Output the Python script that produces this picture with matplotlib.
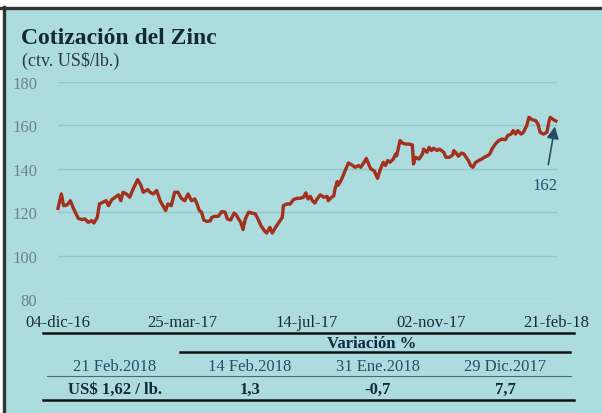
import pandas as pd
import numpy as np
import matplotlib.pyplot as plt
from matplotlib.lines import Line2D
from matplotlib.patches import Rectangle

# =========================
# 1. DATA
# =========================
# dias desde el 04-dic-16
dias = [0, 3, 5, 8, 11, 14, 18, 21, 24, 27, 30, 32, 35, 37, 40, 43, 45, 48, 51, 54,
        56, 58, 61, 64, 67, 71, 74, 76, 80, 82, 85, 88, 91, 96, 98, 101, 104, 107, 110, 113,
        116, 119, 122, 124, 126, 128, 130, 133, 136, 137, 140, 143, 146, 149, 151, 154, 157, 159, 161, 163,
        165, 167, 170, 173, 176, 179, 181, 184, 186, 189, 191, 194, 197, 200, 201, 204, 207, 210, 213, 216,
        219, 221, 223, 225, 227, 229, 231, 234, 237, 240, 241, 244, 246, 247, 249, 250, 253, 256, 259, 262,
        265, 268, 270, 273, 275, 277, 279, 282, 285, 287, 290, 292, 294, 296, 299, 301, 302, 305, 307, 310,
        313, 316, 317, 319, 322, 325, 326, 329, 331, 333, 335, 338, 340, 342, 344, 346, 349, 352, 353, 355,
        357, 360, 362, 364, 366, 368, 370, 372, 375, 378, 380, 383, 385, 387, 390, 393, 396, 399, 401, 404,
        406, 408, 410, 413, 415, 418, 420, 423, 426, 428, 430, 433, 436, 438, 439, 442, 444]
zinc = [121.8, 128.4, 123.0, 123.3, 125.3, 121.5, 117.2, 116.6, 116.9, 115.3, 116.1, 115.0, 117.6, 123.8, 124.6, 125.3, 123.0, 125.8, 126.9, 128.0,
        125.3, 129.2, 128.4, 126.9, 130.7, 135.0, 132.3, 129.2, 130.4, 129.2, 128.4, 130.0, 125.3, 120.8, 123.8, 123.0, 129.2, 129.2, 126.4, 125.3,
        128.4, 125.3, 126.1, 123.8, 120.8, 120.0, 116.4, 115.7, 116.1, 117.6, 118.1, 118.1, 120.3, 120.0, 116.9, 116.4, 119.6, 118.7, 116.9, 115.3,
        112.0, 116.9, 120.0, 119.6, 119.2, 116.1, 113.8, 111.5, 110.4, 113.0, 110.4, 113.0, 115.3, 117.6, 123.0, 123.8, 123.8, 125.8, 126.4, 126.4,
        126.9, 128.9, 126.1, 127.3, 125.3, 124.2, 126.1, 128.0, 126.9, 127.3, 125.3, 126.9, 127.6, 130.7, 134.1, 132.5, 135.3, 139.1, 142.7, 141.8,
        140.7, 141.5, 140.7, 143.0, 144.8, 142.2, 139.9, 139.1, 135.6, 139.1, 143.0, 141.5, 143.8, 143.0, 144.5, 146.8, 146.0, 153.0, 151.9, 151.4,
        151.4, 151.0, 142.2, 145.3, 144.5, 146.8, 149.1, 147.6, 149.9, 148.4, 149.5, 148.4, 149.1, 148.4, 147.6, 145.3, 145.3, 146.4, 148.4, 147.3,
        145.8, 147.3, 146.8, 145.3, 143.8, 141.5, 140.7, 142.7, 143.8, 144.5, 145.3, 146.0, 146.8, 149.1, 151.4, 153.0, 153.7, 153.4, 155.3, 156.0,
        157.6, 156.0, 157.6, 156.0, 156.8, 159.9, 163.7, 162.6, 162.2, 160.6, 156.8, 156.0, 156.8, 162.2, 163.7, 162.6, 162.0]

fecha_inicio = pd.Timestamp("2016-12-04")
fechas = fecha_inicio + pd.to_timedelta(dias, unit="D")

tick_fechas = pd.to_datetime(["2016-12-04", "2017-03-25", "2017-07-14", "2017-11-02", "2018-02-21"])
tick_labels = ["04-dic-16", "25-mar-17", "14-jul-17", "02-nov-17", "21-feb-18"]
y_ticks = [80, 100, 120, 140, 160, 180]

# tabla
col_fechas = ["21 Feb.2018", "14 Feb.2018", "31 Ene.2018", "29 Dic.2017"]
col_valores = ["US$ 1,62 / lb.", "1,3", "-0,7", "7,7"]

# =========================
# 2. STYLE
# =========================
BG = "#addcdf"
LINE = "#a3301c"
NAVY = "#13283a"
TEAL_TXT = "#23506b"
plt.rcParams["font.family"] = ["Liberation Serif", "DejaVu Serif"]

W, H = 602, 414
fig = plt.figure(figsize=(W / 100, H / 100), dpi=100)
fig.patch.set_facecolor(BG)


def fx(px):
    return px / W


def fy(py):
    return 1 - py / H


# marco
fig.patches.append(Rectangle((0, fy(7)), 1, 7 / H, transform=fig.transFigure, color="white", zorder=0))
fig.add_artist(Line2D([0, 1], [fy(8.5), fy(8.5)], color="#333333", lw=2.4))
fig.patches.append(Rectangle((0, 0), fx(2), fy(7), transform=fig.transFigure, color="white", zorder=0))
fig.add_artist(Line2D([fx(3.5), fx(3.5)], [0, fy(8)], color="#333333", lw=2.4))

# =========================
# 3. CHART
# =========================
ax = fig.add_axes([fx(58), fy(300), fx(499), 217 / H])
ax.set_facecolor(BG)
ax.plot(fechas, zinc, color=LINE, lw=2.4, solid_joinstyle="round", clip_on=False, zorder=3)

ax.set_ylim(80, 180)
ax.set_yticks(y_ticks)
ax.set_xlim(fecha_inicio, pd.Timestamp("2018-02-22"))
ax.set_xticks(tick_fechas)
ax.set_xticklabels(tick_labels)
ax.grid(axis="y", color="#93c5ca", lw=1)
ax.set_axisbelow(True)
for s in ax.spines.values():
    s.set_visible(False)
ax.tick_params(axis="y", length=0, pad=15, labelsize=12, labelcolor="#6a8387")
ax.tick_params(axis="x", length=0, pad=11, labelsize=12, labelcolor="#1a2a30")

ax.annotate("162", xy=(fechas[-1], zinc[-1]), xytext=(-8, -46), textcoords="offset points",
            ha="center", va="center", fontsize=12, color=TEAL_TXT,
            arrowprops=dict(arrowstyle="-|>,head_length=0.6,head_width=0.3", color="#2a4c62",
                            lw=1.2, shrinkA=7, shrinkB=4))

# titulos
fig.text(fx(21), fy(38), "Cotización del Zinc", fontsize=17, fontweight="bold", color=NAVY, va="center")
fig.text(fx(22), fy(61), "(ctv. US$/lb.)", fontsize=13, color="#2b3a40", va="center")

# =========================
# 4. TABLE
# =========================
def hline(x0, x1, y, lw, color="#111111"):
    fig.add_artist(Line2D([fx(x0), fx(x1)], [fy(y), fy(y)], color=color, lw=lw))


hline(43, 574, 334, 1.8)
hline(180, 570, 353, 1.8)
hline(47, 571, 377, 0.8, color="#4a6a72")
hline(43, 574, 401, 1.8)

fig.text(fx(372), fy(344), "Variación %", fontsize=12, fontweight="bold", color=NAVY, ha="center", va="center")
col_x = [115, 250, 378, 505]
for cx, f, v in zip(col_x, col_fechas, col_valores):
    fig.text(fx(cx), fy(367), f, fontsize=12, color=TEAL_TXT, ha="center", va="center")
    fig.text(fx(cx), fy(390), v, fontsize=12, fontweight="bold", color=NAVY, ha="center", va="center")

fig.savefig("out.png", dpi=100, facecolor=BG)
